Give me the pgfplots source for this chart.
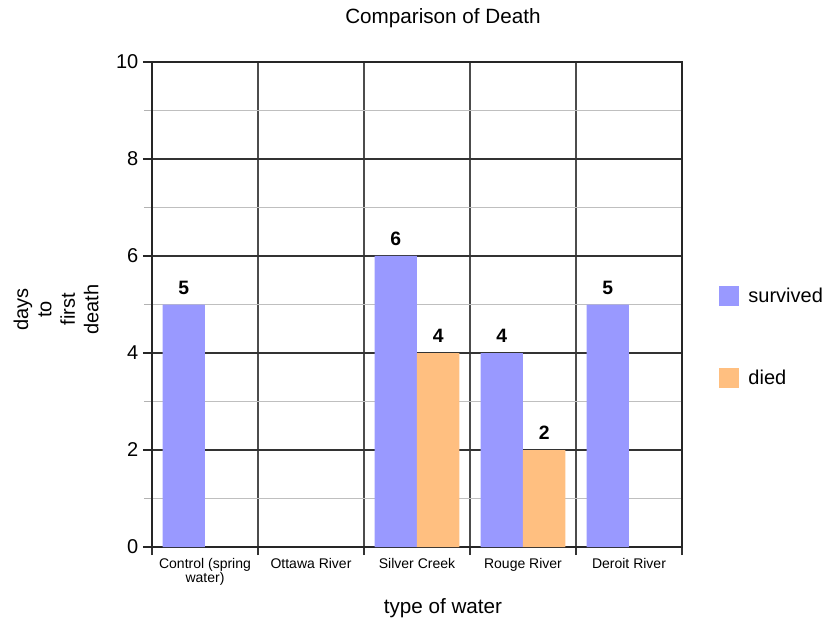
\documentclass[border=0pt]{standalone}
\usepackage{fontspec}
\setmainfont{Liberation Sans}
\usepackage{pgfplots}
\pgfplotsset{compat=1.18}
\definecolor{survcol}{HTML}{9999FF}
\definecolor{diedcol}{HTML}{FFBF80}

\begin{document}
\begin{tikzpicture}
\useasboundingbox (-114pt,-56.25pt) rectangle (516pt,410.25pt);
\begin{axis}[
    at={(0pt,0pt)}, anchor=south west,
    scale only axis,
    width=397.5pt, height=363.75pt,
    /pgf/number format/assume math mode=true,
    ybar=0pt, bar width=0.4,
    xmin=-0.5, xmax=4.5,
    ymin=0, ymax=10,
    xtick={0,...,4},
    xticklabels={{Control (spring\\water)},Ottawa River,Silver Creek,Rouge River,Deroit River},
    minor xtick={-0.5,0.5,...,4.5},
    ytick={0,2,...,10},
    minor ytick={1,3,...,9},
    xtick pos=bottom, ytick pos=left,
    tick align=outside,
    major tick length=6.75pt,
    minor tick length=6pt,
    major x tick style={draw=none},
    minor x tick style={black!80, line width=0.9pt},
    major y tick style={black!85, line width=0.9pt},
    minor y tick style={black!30, line width=0.9pt},
    xminorgrids=true, xmajorgrids=false,
    ymajorgrids=true, yminorgrids=true,
    minor x grid style={black!70, line width=0.9pt},
    major y grid style={black!80, line width=0.9pt},
    minor y grid style={black!25, line width=0.9pt},
    axis line style={black!85, line width=0.9pt},
    xticklabel style={font=\fontsize{10.5}{11}\selectfont, align=center, yshift=2pt},
    yticklabel style={font=\fontsize{15}{18}\selectfont},
    title={Comparison of Death},
    title style={at={(axis description cs:0.549,1.0745)}, anchor=center, font=\fontsize{15.5}{18}\selectfont},
    xlabel={type of water},
    xlabel style={at={(axis description cs:0.549,-0.126)}, anchor=center, font=\fontsize{15.5}{18}\selectfont},
    ylabel={days\\to\\first\\death},
    ylabel style={at={(axis description cs:-0.181,0.49)}, anchor=center, align=center, font=\fontsize{15}{17.6}\selectfont},
    nodes near coords,
    nodes near coords style={font=\bfseries\fontsize{14.5}{16}\selectfont, black, yshift=4pt},
    legend style={at={(axis description cs:1.062,0.546)}, anchor=north west, draw=none, fill=none,
        font=\fontsize{15}{18}\selectfont, row sep=45pt},
    legend cell align=left,
]
\addplot[fill=survcol, draw=none,
    legend image code/.code={\fill[survcol] (0pt,-7.5pt) rectangle (15pt,7.5pt); \path (20pt,0pt);}]
    coordinates {(0,5) (2,6) (3,4) (4,5)};
\addlegendentry{survived}
\addplot[fill=diedcol, draw=none,
    legend image code/.code={\fill[diedcol] (0pt,-7.5pt) rectangle (15pt,7.5pt); \path (20pt,0pt);}]
    coordinates {(2,4) (3,2)};
\addlegendentry{died}
\end{axis}
\end{tikzpicture}
\end{document}
